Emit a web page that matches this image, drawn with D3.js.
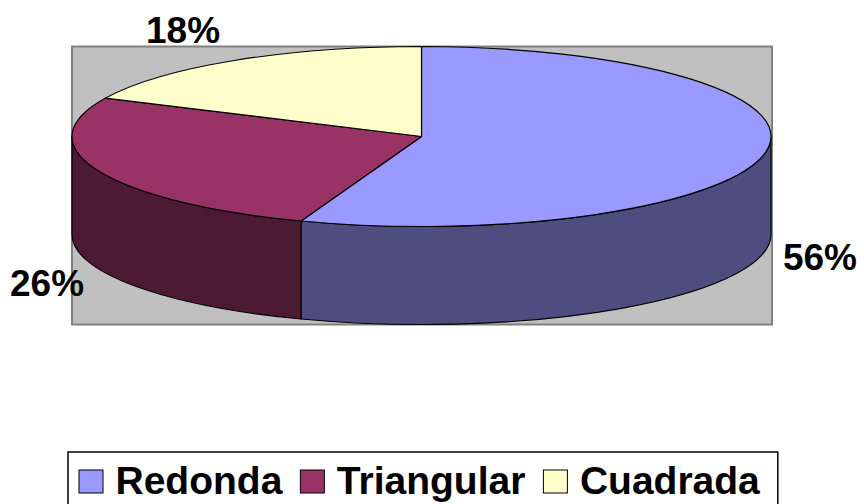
<!DOCTYPE html>
<html>
<head>
<meta charset="utf-8">
<script src="https://cdn.jsdelivr.net/npm/d3@7"></script>
<style>
  html, body { margin: 0; padding: 0; background: #ffffff; }
  svg { display: block; font-family: "Liberation Sans", Arial, sans-serif; }
</style>
</head>
<body>
<div id="chart"></div>
<script>
// chart data
const categories = ["Redonda", "Triangular", "Cuadrada"];
const shares = [55.6, 26.4, 18.0];
const sliceColors = ["#9999FF", "#993366", "#FFFFCC"];

const width = 864;
const height = 504;

// pie geometry (tilted ellipse + wall depth)
const cx = 421.5, cy = 136.5;
const rx = 349.5, ry = 90;
const depth = 98;

const svg = d3.select("#chart")
  .append("svg")
  .attr("width", width)
  .attr("height", height);

const color = d3.scaleOrdinal().domain(categories).range(sliceColors);
const sideColor = c => {
  const k = d3.rgb(c);
  return d3.rgb(k.r * 0.5, k.g * 0.5, k.b * 0.5).formatHex();
};

const data = categories.map((c, i) => ({ name: c, value: shares[i] }));
const arcs = d3.pie().sort(null).value(d => d.value)(data);

// point on the top ellipse for an angle (0 = 12 o'clock, clockwise)
const px = a => cx + rx * Math.sin(a);
const py = a => cy - ry * Math.cos(a);

// plot area
svg.append("rect")
  .attr("x", cx - rx)
  .attr("y", cy - ry)
  .attr("width", 2 * rx + 1)
  .attr("height", 2 * ry + depth)
  .attr("fill", "#C0C0C0")
  .attr("stroke", "#808080")
  .attr("stroke-width", 2);

// front walls: only the part of each slice between 3 and 9 o'clock is visible
const walls = arcs.map(d => {
  const a0 = Math.max(d.startAngle, Math.PI / 2);
  const a1 = Math.min(d.endAngle, 3 * Math.PI / 2);
  return { d, a0, a1 };
}).filter(w => w.a1 > w.a0);

svg.append("g")
  .selectAll("path")
  .data(walls)
  .join("path")
    .attr("fill", w => sideColor(color(w.d.data.name)))
    .attr("stroke", "#000")
    .attr("stroke-width", 1.2)
    .attr("stroke-linejoin", "round")
    .attr("d", w => {
      const large = (w.a1 - w.a0) > Math.PI ? 1 : 0;
      return `M${px(w.a0)},${py(w.a0)}`
        + `A${rx},${ry} 0 ${large} 1 ${px(w.a1)},${py(w.a1)}`
        + `L${px(w.a1)},${py(w.a1) + depth}`
        + `A${rx},${ry} 0 ${large} 0 ${px(w.a0)},${py(w.a0) + depth}Z`;
    });

// top faces
svg.append("g")
  .selectAll("path")
  .data(arcs)
  .join("path")
    .attr("fill", d => color(d.data.name))
    .attr("stroke", "#000")
    .attr("stroke-width", 1.2)
    .attr("stroke-linejoin", "round")
    .attr("d", d => {
      const large = (d.endAngle - d.startAngle) > Math.PI ? 1 : 0;
      return `M${cx},${cy}L${px(d.startAngle)},${py(d.startAngle)}`
        + `A${rx},${ry} 0 ${large} 1 ${px(d.endAngle)},${py(d.endAngle)}Z`;
    });

// percentage labels outside the pie, kept inside the chart
const lrx = 445, lry = 126;
const labels = svg.append("g")
  .selectAll("text")
  .data(arcs)
  .join("text")
    .attr("font-size", 37)
    .attr("font-weight", "bold")
    .attr("fill", "#000")
    .attr("text-anchor", "middle")
    .attr("dy", "0.36em")
    .text(d => `${Math.round(d.data.value)}%`);

labels.each(function(d) {
  const m = (d.startAngle + d.endAngle) / 2;
  const w = this.getComputedTextLength();
  let x = cx + lrx * Math.sin(m);
  let y = cy - lry * Math.cos(m) + (Math.cos(m) < 0 ? depth : 0);
  x = Math.max(10 + w / 2, Math.min(width - 7 - w / 2, x));
  d3.select(this).attr("x", x).attr("y", y);
});

// legend
const legend = svg.append("g");
const legendBox = legend.append("rect")
  .attr("y", 452)
  .attr("height", 80)
  .attr("fill", "#fff")
  .attr("stroke", "#000")
  .attr("stroke-width", 1.5);

let lx = 79;
categories.forEach((c, i) => {
  legend.append("rect")
    .attr("x", lx)
    .attr("y", 470)
    .attr("width", 24)
    .attr("height", 23)
    .attr("fill", color(c))
    .attr("stroke", "#000")
    .attr("stroke-width", 1);
  const t = legend.append("text")
    .attr("x", lx + 36.5)
    .attr("y", 494)
    .attr("font-size", 39)
    .attr("font-weight", "bold")
    .attr("fill", "#000")
    .text(c);
  lx = lx + 36.5 + t.node().getComputedTextLength() + (i < categories.length - 1 ? 18 : 0);
});
legendBox.attr("x", 68).attr("width", lx + 18 - 68);
</script>
</body>
</html>
